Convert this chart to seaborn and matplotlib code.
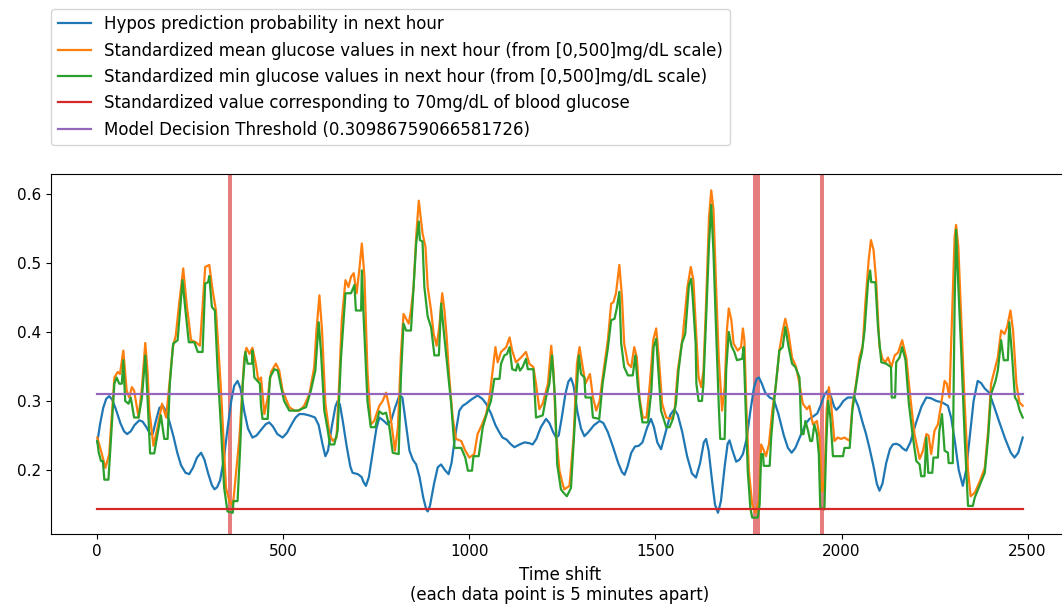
import matplotlib
matplotlib.use("Agg")
import matplotlib.pyplot as plt
import seaborn as sns

# Hypo prediction probability for the next hour
prob_x = [0, 8, 16, 24, 32, 40, 50, 62, 72, 80, 90, 100, 113, 122, 132, 142, 149, 157, 167,
          176, 185, 195, 205, 215, 225, 237, 247, 257, 268, 279, 288, 298, 308, 315, 322, 330,
          340, 350, 360, 368, 377, 385, 395, 405, 417, 428, 440, 452, 462, 472, 484, 498, 510,
          522, 533, 543, 555, 570, 585, 595, 605, 613, 620, 630, 640, 646, 652, 660, 670, 680,
          686, 700, 710, 716, 722, 730, 740, 750, 758, 768, 780, 790, 800, 812, 820, 830, 839,
          848, 857, 866, 876, 884, 888, 894, 905, 915, 924, 934, 944, 952, 962, 973, 982, 991,
          1005, 1022, 1035, 1045, 1058, 1070, 1080, 1089, 1100, 1110, 1121, 1135, 1148, 1160,
          1170, 1180, 1192, 1206, 1215, 1225, 1233, 1240, 1248, 1258, 1266, 1273, 1280, 1290,
          1300, 1309, 1320, 1335, 1350, 1360, 1372, 1385, 1400, 1410, 1417, 1425, 1435, 1445,
          1455, 1465, 1478, 1488, 1496, 1505, 1515, 1525, 1540, 1551, 1560, 1572, 1585, 1598,
          1609, 1620, 1630, 1636, 1643, 1652, 1660, 1668, 1676, 1686, 1694, 1699, 1706, 1717,
          1726, 1735, 1745, 1755, 1765, 1772, 1778, 1786, 1795, 1807, 1818, 1830, 1845, 1856,
          1866, 1876, 1890, 1905, 1914, 1925, 1935, 1945, 1955, 1963, 1972, 1980, 1986, 1995,
          2005, 2017, 2035, 2045, 2055, 2066, 2075, 2085, 2095, 2102, 2110, 2120, 2130, 2138,
          2147, 2156, 2165, 2174, 2185, 2200, 2215, 2228, 2240, 2255, 2270, 2286, 2295, 2305,
          2315, 2326, 2335, 2345, 2355, 2366, 2375, 2385, 2397, 2410, 2425, 2440, 2455, 2465,
          2475, 2487]
prob_y = [0.240, 0.268, 0.290, 0.303, 0.307, 0.302, 0.288, 0.268, 0.256, 0.252, 0.256, 0.265,
          0.272, 0.270, 0.262, 0.252, 0.252, 0.270, 0.290, 0.293, 0.285, 0.268, 0.248, 0.225,
          0.207, 0.196, 0.194, 0.203, 0.218, 0.225, 0.215, 0.195, 0.178, 0.172, 0.175, 0.185,
          0.215, 0.260, 0.300, 0.322, 0.329, 0.318, 0.285, 0.260, 0.247, 0.250, 0.258, 0.266,
          0.269, 0.263, 0.252, 0.247, 0.254, 0.266, 0.276, 0.281, 0.281, 0.279, 0.276, 0.265,
          0.238, 0.220, 0.228, 0.262, 0.292, 0.300, 0.295, 0.270, 0.235, 0.205, 0.196, 0.194,
          0.190, 0.182, 0.177, 0.190, 0.225, 0.260, 0.276, 0.272, 0.266, 0.272, 0.290, 0.308,
          0.305, 0.265, 0.228, 0.215, 0.208, 0.190, 0.160, 0.143, 0.140, 0.148, 0.180, 0.204,
          0.208, 0.200, 0.194, 0.210, 0.250, 0.286, 0.293, 0.296, 0.302, 0.308, 0.303, 0.296,
          0.282, 0.265, 0.255, 0.247, 0.244, 0.238, 0.233, 0.237, 0.240, 0.239, 0.237, 0.245,
          0.262, 0.274, 0.268, 0.255, 0.247, 0.250, 0.275, 0.310, 0.328, 0.333, 0.322, 0.285,
          0.260, 0.249, 0.255, 0.265, 0.271, 0.268, 0.255, 0.235, 0.210, 0.197, 0.193, 0.205,
          0.225, 0.234, 0.235, 0.240, 0.262, 0.274, 0.262, 0.240, 0.230, 0.250, 0.280, 0.288,
          0.280, 0.255, 0.220, 0.195, 0.189, 0.210, 0.240, 0.245, 0.228, 0.185, 0.150, 0.138,
          0.155, 0.205, 0.238, 0.243, 0.230, 0.212, 0.215, 0.223, 0.245, 0.285, 0.320, 0.332,
          0.334, 0.325, 0.312, 0.305, 0.302, 0.282, 0.250, 0.232, 0.225, 0.232, 0.250, 0.268,
          0.274, 0.278, 0.282, 0.295, 0.310, 0.315, 0.306, 0.292, 0.287, 0.292, 0.300, 0.305,
          0.305, 0.292, 0.272, 0.252, 0.232, 0.208, 0.180, 0.170, 0.180, 0.210, 0.230, 0.237,
          0.238, 0.236, 0.231, 0.228, 0.240, 0.268, 0.292, 0.305, 0.304, 0.300, 0.298, 0.293,
          0.275, 0.240, 0.200, 0.177, 0.200, 0.250, 0.300, 0.329, 0.326, 0.318, 0.312, 0.292,
          0.268, 0.245, 0.225, 0.218, 0.225, 0.247]

# Standardized mean glucose over the next hour
mean_x = [0, 10, 22, 32, 46, 55, 61, 70, 79, 86, 93, 99, 111, 120, 129, 135, 140, 151, 162,
          174, 185, 194, 203, 211, 220, 231, 240, 252, 265, 276, 283, 290, 301, 310, 319, 332,
          346, 355, 359, 366, 382, 395, 401, 409, 417, 426, 433, 440, 449, 458, 467, 480, 489,
          498, 516, 530, 543, 556, 570, 583, 589, 597, 604, 613, 624, 633, 643, 650, 657, 667,
          675, 682, 689, 697, 704, 711, 718, 726, 735, 744, 758, 767, 776, 785, 800, 808, 816,
          823, 830, 837, 843, 850, 857, 864, 870, 874, 882, 888, 897, 904, 912, 919, 927, 933,
          939, 946, 955, 964, 978, 989, 1000, 1013, 1022, 1034, 1045, 1054, 1063, 1070, 1076,
          1085, 1099, 1108, 1115, 1125, 1139, 1152, 1161, 1172, 1179, 1188, 1197, 1211, 1220,
          1226, 1233, 1242, 1251, 1255, 1269, 1280, 1289, 1296, 1303, 1312, 1324, 1332, 1341,
          1350, 1358, 1372, 1381, 1387, 1394, 1403, 1410, 1416, 1426, 1435, 1443, 1450, 1457,
          1466, 1476, 1485, 1494, 1502, 1509, 1518, 1529, 1542, 1551, 1560, 1573, 1586, 1595,
          1602, 1609, 1616, 1623, 1629, 1636, 1644, 1650, 1656, 1663, 1670, 1679, 1686, 1692,
          1697, 1704, 1710, 1721, 1730, 1735, 1739, 1744, 1751, 1760, 1769, 1778, 1784, 1790,
          1797, 1805, 1814, 1824, 1833, 1842, 1849, 1858, 1867, 1878, 1887, 1896, 1907, 1914,
          1923, 1934, 1941, 1948, 1954, 1960, 1966, 1972, 1981, 1990, 1999, 2008, 2022, 2030,
          2039, 2048, 2057, 2064, 2073, 2079, 2086, 2093, 2102, 2110, 2118, 2125, 2134, 2143,
          2152, 2163, 2174, 2185, 2196, 2210, 2219, 2228, 2234, 2241, 2250, 2259, 2268, 2277,
          2283, 2290, 2298, 2304, 2308, 2314, 2322, 2331, 2340, 2347, 2358, 2372, 2385, 2394,
          2402, 2411, 2420, 2429, 2438, 2445, 2454, 2461, 2470, 2478, 2487]
mean_y = [0.247, 0.228, 0.203, 0.223, 0.334, 0.342, 0.339, 0.373, 0.315, 0.305, 0.320, 0.315,
          0.276, 0.320, 0.384, 0.344, 0.286, 0.235, 0.262, 0.296, 0.276, 0.325, 0.378, 0.395,
          0.441, 0.492, 0.441, 0.388, 0.385, 0.380, 0.436, 0.494, 0.497, 0.460, 0.431, 0.320,
          0.174, 0.155, 0.150, 0.157, 0.247, 0.363, 0.377, 0.368, 0.377, 0.354, 0.329, 0.334,
          0.281, 0.305, 0.342, 0.354, 0.344, 0.315, 0.291, 0.286, 0.286, 0.293, 0.310, 0.349,
          0.402, 0.453, 0.402, 0.296, 0.252, 0.242, 0.247, 0.325, 0.417, 0.475, 0.465, 0.480,
          0.485, 0.456, 0.489, 0.528, 0.480, 0.344, 0.266, 0.271, 0.293, 0.300, 0.312, 0.290,
          0.228, 0.262, 0.368, 0.426, 0.419, 0.412, 0.431, 0.465, 0.538, 0.590, 0.562, 0.543,
          0.523, 0.465, 0.431, 0.397, 0.380, 0.407, 0.456, 0.431, 0.392, 0.334, 0.276, 0.245,
          0.242, 0.228, 0.218, 0.223, 0.252, 0.266, 0.281, 0.305, 0.346, 0.378, 0.356, 0.371,
          0.378, 0.392, 0.373, 0.356, 0.363, 0.371, 0.354, 0.349, 0.325, 0.288, 0.296, 0.325,
          0.380, 0.344, 0.252, 0.199, 0.179, 0.172, 0.177, 0.247, 0.354, 0.378, 0.354, 0.325,
          0.339, 0.305, 0.286, 0.300, 0.334, 0.388, 0.441, 0.443, 0.456, 0.497, 0.451, 0.383,
          0.354, 0.349, 0.378, 0.363, 0.305, 0.276, 0.276, 0.325, 0.388, 0.405, 0.363, 0.296,
          0.276, 0.274, 0.283, 0.344, 0.392, 0.465, 0.494, 0.475, 0.402, 0.334, 0.320, 0.344,
          0.441, 0.567, 0.605, 0.577, 0.465, 0.363, 0.286, 0.320, 0.402, 0.434, 0.417, 0.383,
          0.373, 0.378, 0.405, 0.388, 0.296, 0.199, 0.150, 0.138, 0.155, 0.237, 0.230, 0.220,
          0.237, 0.286, 0.325, 0.373, 0.402, 0.419, 0.397, 0.363, 0.349, 0.325, 0.296, 0.288,
          0.293, 0.266, 0.271, 0.247, 0.169, 0.184, 0.286, 0.320, 0.296, 0.242, 0.247, 0.245,
          0.247, 0.242, 0.296, 0.325, 0.363, 0.380, 0.441, 0.504, 0.533, 0.519, 0.475, 0.378,
          0.361, 0.356, 0.363, 0.349, 0.366, 0.370, 0.388, 0.363, 0.305, 0.252, 0.216, 0.228,
          0.252, 0.250, 0.223, 0.257, 0.266, 0.296, 0.329, 0.325, 0.305, 0.441, 0.538, 0.555,
          0.523, 0.417, 0.296, 0.199, 0.162, 0.167, 0.184, 0.203, 0.257, 0.325, 0.344, 0.363,
          0.402, 0.397, 0.407, 0.431, 0.402, 0.325, 0.298, 0.293]

# Standardized minimum glucose over the next hour
min_x = [0, 4, 10, 15, 19, 30, 37, 46, 52, 59, 66, 70, 75, 84, 90, 99, 111, 120, 129, 135,
         142, 153, 162, 171, 180, 189, 195, 204, 216, 222, 229, 237, 246, 261, 270, 283, 290,
         298, 301, 308, 316, 323, 332, 341, 350, 364, 366, 377, 384, 391, 398, 404, 416, 417,
         422, 437, 440, 444, 458, 464, 476, 485, 494, 502, 516, 538, 547, 561, 574, 586, 595,
         601, 610, 619, 625, 637, 646, 655, 667, 682, 691, 695, 709, 711, 715, 726, 735, 747,
         758, 767, 776, 785, 794, 810, 816, 823, 830, 843, 850, 857, 864, 867, 874, 879, 888,
         897, 906, 918, 924, 930, 942, 951, 960, 978, 989, 996, 1007, 1011, 1025, 1036, 1049,
         1058, 1067, 1081, 1085, 1094, 1101, 1108, 1115, 1125, 1130, 1136, 1143, 1152, 1157,
         1172, 1179, 1197, 1206, 1215, 1222, 1230, 1236, 1246, 1253, 1262, 1273, 1282, 1294,
         1300, 1309, 1312, 1327, 1332, 1349, 1358, 1372, 1381, 1390, 1396, 1403, 1408, 1416,
         1426, 1439, 1446, 1452, 1458, 1465, 1480, 1489, 1495, 1502, 1509, 1515, 1529, 1538,
         1547, 1555, 1562, 1571, 1580, 1590, 1596, 1600, 1608, 1610, 1616, 1625, 1629, 1636,
         1644, 1650, 1656, 1663, 1670, 1674, 1686, 1690, 1697, 1704, 1712, 1719, 1733, 1737,
         1742, 1748, 1755, 1760, 1775, 1780, 1784, 1789, 1791, 1807, 1811, 1820, 1833, 1842,
         1849, 1858, 1867, 1876, 1887, 1892, 1898, 1903, 1910, 1916, 1921, 1927, 1934, 1939,
         1943, 1954, 1959, 1964, 1970, 1977, 2004, 2008, 2022, 2029, 2037, 2048, 2055, 2062,
         2071, 2077, 2080, 2091, 2098, 2107, 2120, 2133, 2135, 2144, 2147, 2156, 2163, 2172,
         2181, 2192, 2201, 2210, 2214, 2223, 2228, 2233, 2244, 2247, 2259, 2263, 2270, 2277,
         2286, 2288, 2299, 2304, 2308, 2314, 2322, 2331, 2340, 2353, 2358, 2367, 2376, 2385,
         2394, 2402, 2414, 2420, 2429, 2436, 2447, 2451, 2458, 2466, 2472, 2479, 2487]
min_y = [0.242, 0.225, 0.213, 0.213, 0.186, 0.186, 0.247, 0.325, 0.334, 0.325, 0.325, 0.359,
         0.300, 0.296, 0.305, 0.276, 0.276, 0.305, 0.366, 0.305, 0.224, 0.224, 0.252, 0.279,
         0.245, 0.245, 0.325, 0.383, 0.388, 0.429, 0.475, 0.431, 0.385, 0.385, 0.371, 0.371,
         0.470, 0.472, 0.481, 0.436, 0.431, 0.349, 0.266, 0.174, 0.140, 0.138, 0.155, 0.155,
         0.232, 0.325, 0.371, 0.354, 0.354, 0.373, 0.334, 0.325, 0.293, 0.274, 0.274, 0.334,
         0.346, 0.344, 0.320, 0.300, 0.286, 0.286, 0.288, 0.291, 0.315, 0.344, 0.414, 0.373,
         0.286, 0.259, 0.237, 0.237, 0.257, 0.363, 0.456, 0.456, 0.468, 0.431, 0.431, 0.489,
         0.431, 0.300, 0.262, 0.262, 0.285, 0.281, 0.283, 0.262, 0.225, 0.223, 0.334, 0.412,
         0.402, 0.402, 0.465, 0.528, 0.560, 0.533, 0.531, 0.465, 0.422, 0.407, 0.366, 0.366,
         0.441, 0.407, 0.344, 0.296, 0.232, 0.232, 0.218, 0.199, 0.199, 0.220, 0.220, 0.262,
         0.286, 0.300, 0.332, 0.332, 0.354, 0.366, 0.368, 0.378, 0.346, 0.344, 0.354, 0.344,
         0.349, 0.361, 0.346, 0.346, 0.276, 0.279, 0.305, 0.325, 0.366, 0.305, 0.208, 0.172,
         0.167, 0.162, 0.174, 0.257, 0.366, 0.339, 0.334, 0.305, 0.305, 0.276, 0.274, 0.325,
         0.376, 0.417, 0.419, 0.434, 0.458, 0.383, 0.349, 0.337, 0.337, 0.366, 0.325, 0.296,
         0.269, 0.269, 0.315, 0.378, 0.390, 0.334, 0.286, 0.262, 0.262, 0.274, 0.296, 0.344,
         0.383, 0.397, 0.468, 0.477, 0.451, 0.383, 0.325, 0.300, 0.300, 0.325, 0.417, 0.528,
         0.584, 0.514, 0.402, 0.296, 0.245, 0.245, 0.344, 0.400, 0.380, 0.371, 0.359, 0.361,
         0.378, 0.296, 0.199, 0.145, 0.131, 0.131, 0.150, 0.223, 0.223, 0.206, 0.206, 0.247,
         0.305, 0.373, 0.378, 0.407, 0.378, 0.354, 0.349, 0.334, 0.252, 0.252, 0.271, 0.257,
         0.242, 0.242, 0.266, 0.252, 0.223, 0.145, 0.143, 0.237, 0.300, 0.276, 0.220, 0.220,
         0.232, 0.232, 0.286, 0.315, 0.354, 0.371, 0.402, 0.470, 0.489, 0.472, 0.472, 0.407,
         0.356, 0.354, 0.349, 0.305, 0.305, 0.356, 0.363, 0.378, 0.359, 0.296, 0.247, 0.213,
         0.208, 0.191, 0.191, 0.247, 0.196, 0.196, 0.218, 0.218, 0.257, 0.281, 0.228, 0.225,
         0.210, 0.210, 0.441, 0.548, 0.465, 0.368, 0.247, 0.148, 0.148, 0.160, 0.172, 0.184,
         0.196, 0.247, 0.310, 0.329, 0.344, 0.388, 0.359, 0.359, 0.414, 0.368, 0.305, 0.300,
         0.286, 0.276]

# Reference levels
hypo_level = 0.144
threshold = 0.30986759066581726
series_start, series_end = 0, 2487

# Observed hypo episodes (start, end of each shaded band)
hypo_start = [350, 1762, 1942]
hypo_end = [362, 1782, 1954]

labels = [
    "Hypos prediction probability in next hour",
    "Standardized mean glucose values in next hour (from [0,500]mg/dL scale)",
    "Standardized min glucose values in next hour (from [0,500]mg/dL scale)",
    "Standardized value corresponding to 70mg/dL of blood glucose",
    "Model Decision Threshold (" + repr(threshold) + ")",
]
palette = sns.color_palette("tab10")

fig = plt.figure(figsize=(10.62, 6.07), dpi=100)
ax = fig.add_axes([51 / 1062, 73 / 607, (1069 - 51) / 1062, 360 / 607])

sns.lineplot(x=prob_x, y=prob_y, ax=ax, color=palette[0], label=labels[0], linewidth=1.6)
sns.lineplot(x=mean_x, y=mean_y, ax=ax, color=palette[1], label=labels[1], linewidth=1.6)
sns.lineplot(x=min_x, y=min_y, ax=ax, color=palette[2], label=labels[2], linewidth=1.6)
level_x = [series_start, series_end]
sns.lineplot(x=level_x, y=[hypo_level] * 2, ax=ax, color=palette[3], label=labels[3], linewidth=1.6)
sns.lineplot(x=level_x, y=[threshold] * 2, ax=ax, color=palette[4], label=labels[4], linewidth=1.6)

for s, e in zip(hypo_start, hypo_end):
    ax.axvspan(s, e, color=palette[3], alpha=0.6, linewidth=0)

ax.tick_params(labelsize=11)
ax.set_xlabel("Time shift\n(each data point is 5 minutes apart)", fontsize=12, labelpad=5)
ax.set_ylabel("")
ax.legend(loc="lower left", bbox_to_anchor=(0, 1.08), borderaxespad=0, fontsize=12)

fig.savefig("out.png", dpi=100)
